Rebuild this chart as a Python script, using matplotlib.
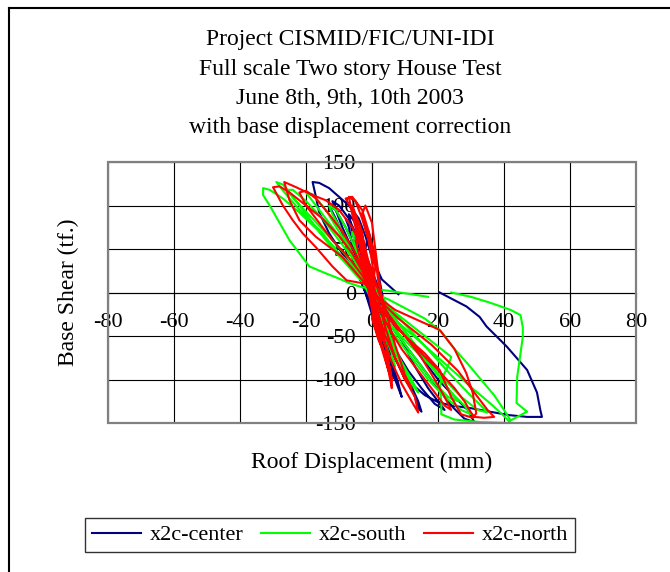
import matplotlib
matplotlib.use("Agg")
import matplotlib.pyplot as plt
from matplotlib.patches import Rectangle
from matplotlib.lines import Line2D

plt.rcParams['font.family'] = ['Liberation Serif', 'DejaVu Serif']
plt.rcParams['axes.unicode_minus'] = False

# Roof displacement (mm), base shear (tf.)
center_pts = [
    (20.5, 0), (28.6, -16), (32.6, -28), (34.7, -39), (40.8, -62), (47, -89), (50, -115), (51, -135),
    (51.5, -143), (47, -143), (41.7, -141), (35.7, -137), (30, -133), (24, -130), (20, -126),
    (16, -118), (12, -105), (9, -90), (6, -70), (3, -45), (0, -20), (-2, 0), (-4, 20), (-5, 40),
    (-3, 30), (0, 10),
    (0, 0), (1, -15), (2, -35), (3, -55), (4, -70), (5, -80), (4, -70), (2, -45), (0, -20), (-1, 0),
    (-2, 20), (-3, 40), (-4, 55), (-3, 45), (-1, 25), (0, 5),
    (1, -10), (3, -40), (5, -65), (6, -85), (7, -100), (6, -95), (4, -75), (2, -50), (0, -25), (-2, 0),
    (-4, 30), (-6, 55), (-7, 75), (-8, 85), (-6, 75), (-4, 55), (-2, 30), (0, 10),
    (2, -10), (-1, 20), (-2, 50), (-1, 70), (1, 40), (3, 0), (5, -40), (6, -60), (4, -30), (0, 0),
    (2, -15), (5, -45), (8, -75), (11, -100), (13, -120), (14, -133), (15, -137), (14, -125), (11, -100),
    (8, -75), (4, -50), (1, -25), (-2, 0), (-5, 30), (-8, 60), (-11, 85), (-13, 100), (-11, 95),
    (-8, 75), (-5, 50), (-2, 25), (1, 5),
    (2, -20), (4, -50), (6, -80), (8, -105), (9, -120), (8, -110), (6, -90), (4, -65), (2, -40), (0, -15),
    (-2, 10), (-4, 40), (-6, 70), (-7, 90), (-5, 80), (-3, 55), (-1, 25), (0, 0),
    (-3, 25), (-6, 50), (-9, 75), (-11, 95), (-12, 105), (-10, 100), (-7, 85), (-4, 60), (-1, 35),
    (2, 5), (5, -25), (9, -55), (13, -85), (17, -110), (20, -125), (22, -135), (19, -128), (15, -110),
    (11, -90), (7, -65), (3, -35), (0, -5),
    (5, -20), (10, -45), (15, -75), (20, -100), (25, -120), (29, -135), (31, -149), (28, -145), (24, -130),
    (20, -110), (15, -85), (10, -60), (5, -35), (0, -10), (-5, 25), (-9, 45), (-13, 68), (-16, 92),
    (-17, 110), (-18, 127), (-16, 126), (-13, 120), (-10, 110), (-7, 100), (-4, 85), (-2, 65), (0, 40),
    (3, 15), (8, -2),
]

south_pts = [
    (24, 0), (30, -5), (36, -12), (42, -20), (45, -26), (45.7, -40), (45.7, -51), (45, -70), (44, -97),
    (43.8, -127), (47, -137), (44, -143), (42, -147), (40, -135), (37, -118), (33, -100), (29, -82),
    (25, -65), (21, -45), (16, -30), (10, -18), (5, -8), (0, 0), (-3, 15), (-2, 20), (0, 10),
    (0, 0), (2, -25), (4, -50), (6, -70), (7, -85), (5, -70), (3, -45), (1, -20), (-1, 5), (-3, 30),
    (-5, 55), (-6, 70), (-4, 60), (-2, 35), (0, 10),
    (3, -25), (6, -55), (9, -80), (12, -100), (14, -115), (12, -105), (9, -85), (6, -60), (3, -35),
    (0, -10), (-3, 15), (-6, 45), (-9, 70), (-12, 90), (-13, 100), (-11, 95), (-8, 75), (-5, 50),
    (-2, 25), (1, 5),
    (0, 0), (-4, 30), (-8, 55), (-13, 80), (-17, 100), (-20, 115), (-18, 113), (-14, 95), (-10, 70),
    (-6, 45), (-2, 20), (2, -5), (7, -30), (12, -55), (17, -80), (22, -105), (26, -125), (23, -120),
    (18, -100), (13, -75), (8, -50), (3, -25), (0, 0),
    (5, -20), (10, -45), (15, -70), (20, -95), (24, -115), (28, -130), (30, -140), (27, -135), (22, -120),
    (17, -100), (12, -75), (7, -50), (2, -25), (-1, 0), (-4, 20), (-10, 45), (-15, 68), (-21, 91),
    (-25, 108), (-28, 122), (-29, 127), (-27, 124), (-25, 115), (-22, 100), (-18, 80), (-14, 60),
    (-10, 42), (-6, 25), (-2, 8), (2, 0),
    (0, 0), (-6, 35), (-12, 60), (-18, 85), (-23, 105), (-26, 118), (-24, 118), (-20, 105), (-15, 85),
    (-10, 60), (-5, 35), (0, 10), (6, -20), (12, -45), (18, -70), (24, -95), (29, -115), (33, -130),
    (35, -138), (32, -135), (27, -120), (22, -100), (16, -78), (10, -55), (4, -30), (0, 0),
    (6, -20), (11, -35), (16, -50), (21, -65), (24, -74), (23, -85), (21, -100), (20.5, -110), (21, -125),
    (21, -140), (25, -146), (33, -149), (42, -150), (40, -142), (36, -128), (31, -112), (26, -95),
    (21, -78), (15, -58), (9, -38), (3, -18), (-1, 0), (-5, 28), (-10, 45), (-16, 70), (-22, 92),
    (-27, 108), (-31, 118), (-33, 120), (-33, 112), (-31, 100), (-28, 80), (-25, 60), (-22, 45),
    (-19, 30), (-14, 22), (-10, 16), (-7, 11), (-3, 6), (5, 2), (12, -2), (17, -5),
]

north_pts = [
    (0, 0), (1, -20), (2, -40), (3, -55), (2, -45), (0, -20), (-1, 0), (-2, 25), (-3, 50), (-4, 70),
    (-3, 55), (-1, 30), (0, 10),
    (1, -15), (2, -35), (4, -60), (5, -80), (6, -100), (5, -90), (3, -65), (1, -40), (0, -15), (-1, 10),
    (-3, 40), (-4, 65), (-5, 85), (-6, 100), (-5, 90), (-3, 70), (-2, 45), (-1, 20), (0, 0),
    (1, 30), (-1, 60), (-3, 90), (-2, 100), (0, 80), (1, 50), (2, 20), (3, -10), (4, -40), (3, -55),
    (2, -30), (0, 0),
    (1, -25), (3, -50), (6, -80), (9, -105), (12, -125), (14, -138), (13, -120), (10, -100), (7, -75),
    (4, -50), (2, -25), (0, 0), (-2, 30), (-4, 60), (-6, 90), (-7, 110), (-5, 105), (-3, 85), (-1, 60),
    (0, 35), (1, 10),
    (0, 0), (-2, 40), (-4, 70), (-6, 95), (-8, 108), (-6, 110), (-3, 95), (-1, 70), (1, 40), (2, 10),
    (4, -20), (7, -60), (10, -95), (12, -110), (10, -100), (7, -75), (4, -40), (2, -10),
    (-2, 10), (-4.7, 22), (-9, 41), (-17, 64), (-22, 83), (-25, 106), (-26.6, 127), (-23, 121),
    (-18, 112), (-14, 106), (-10, 95), (-6, 75), (-3, 50), (0, 25), (2, 0),
    (4, -15), (8, -30), (13, -45), (18, -60), (22, -75), (26, -90), (29, -105), (32, -120), (35, -135),
    (37, -143), (34, -144), (31, -143), (30, -138), (28, -125), (25, -110), (20, -89), (15, -70),
    (10, -50), (5, -30), (1, -10),
    (0, 0), (-3, 20), (-7, 40), (-12, 60), (-16, 80), (-20, 100), (-22, 115), (-20, 117), (-17, 108),
    (-13, 90), (-9, 70), (-5, 45), (-2, 20), (1, 0), (5, -25), (10, -50), (15, -75), (19, -100),
    (22, -120), (24, -135), (22, -130), (18, -110), (14, -90), (9, -65), (5, -40), (1, -10),
    (-2, 10), (-7.7, 14), (-12, 30), (-17, 52), (-21, 68), (-24, 83), (-27, 100), (-30, 121), (-28, 122),
    (-25, 115), (-20, 100), (-15, 85), (-10, 65), (-6, 45), (-3, 25), (0, 5),
    (0, 0), (7, -20), (14, -32), (20.5, -43), (25, -65), (28.6, -93), (30.5, -115), (31.6, -139),
    (30.5, -144), (27, -140), (24, -120), (20.5, -89), (16, -70), (10, -50), (5, -30), (1, -10),
    (0, 0), (2, -30), (3, -50), (4, -60), (3, -40), (1, -15), (-1, 15), (-3, 45), (-5, 80), (-6, 95),
    (-4, 80), (-2, 50), (0, 20), (1, 0),
    (1, -5), (0, -30), (2, -55), (4, -70), (5, -80), (6, -100), (6, -110), (5, -90), (3, -60), (1, -35),
    (0, -10), (-2, 20), (-4, 45), (-5, 60), (-3, 55), (-1, 30), (0, 0),
]

series_names = ['x2c-center', 'x2c-south', 'x2c-north']
series_colors = ['#000080', '#00FF00', '#FF0000']
x_ticks = [-80, -60, -40, -20, 0, 20, 40, 60, 80]
y_ticks = [-150, -100, -50, 0, 50, 100, 150]
title_lines = ['Project CISMID/FIC/UNI-IDI', 'Full scale Two story House Test',
               'June 8th, 9th, 10th 2003', 'with base displacement correction']

fig = plt.figure(figsize=(6.7, 5.72), dpi=100)
W, H = 670, 572
ax = fig.add_axes([108 / W, 1 - 423 / H, 528 / W, 261 / H])

for pts, name, col in zip([center_pts, south_pts, north_pts], series_names, series_colors):
    xs = [p[0] for p in pts]
    ys = [p[1] for p in pts]
    ax.plot(xs, ys, color=col, lw=1.5, label=name, zorder=3, solid_joinstyle='round')

ax.set_xlim(-80, 80)
ax.set_ylim(-150, 150)
ax.set_xticks(x_ticks)
ax.set_yticks(y_ticks)
ax.set_xticklabels([str(t) for t in x_ticks])
ax.set_yticklabels([str(t) for t in y_ticks])
ax.grid(True, color='black', lw=0.8, zorder=0)

# axes cross at zero, Excel style
ax.spines['left'].set_position(('data', 0))
ax.spines['bottom'].set_position(('data', 0))
ax.spines['right'].set_visible(False)
ax.spines['top'].set_visible(False)
for s in ['left', 'bottom']:
    ax.spines[s].set_color('black')
    ax.spines[s].set_linewidth(0.8)
ax.tick_params(direction='out', length=3.6, width=0.8, labelsize=16, colors='black')
ax.tick_params(axis='x', pad=11)
ax.tick_params(axis='y', pad=8)

# gray plot-area frame
ax.add_patch(Rectangle((0, 0), 1, 1, transform=ax.transAxes, fill=False,
                       edgecolor='#808080', lw=1.6, clip_on=False, zorder=4))

for i, line in enumerate(title_lines):
    fig.text(350 / W, 1 - (40 + i * 29) / H, line, ha='center', va='center', fontsize=17)

fig.text(372 / W, 1 - 462 / H, 'Roof Displacement (mm)', ha='center', va='center', fontsize=17)
fig.text(68 / W, 1 - 292 / H, 'Base Shear (tf.)', ha='center', va='center', fontsize=17, rotation=90)

handles = [Line2D([], [], color=c, lw=1.5) for c in series_colors]
leg = fig.legend(handles, series_names, loc='center', bbox_to_anchor=(330 / W, 1 - 535 / H),
                 ncol=3, fontsize=16, frameon=True, fancybox=False, handlelength=2.2,
                 columnspacing=0.8, handletextpad=0.4, borderpad=0.3)
leg.get_frame().set_edgecolor('black')
leg.get_frame().set_linewidth(1.0)

# outer chart border (top and left edge visible)
fig.add_artist(Line2D([9 / W, 1], [1 - 8 / H, 1 - 8 / H], transform=fig.transFigure, color='black', lw=1.5))
fig.add_artist(Line2D([9 / W, 9 / W], [0, 1 - 8 / H], transform=fig.transFigure, color='black', lw=1.5))

fig.savefig('out.png', dpi=100)
